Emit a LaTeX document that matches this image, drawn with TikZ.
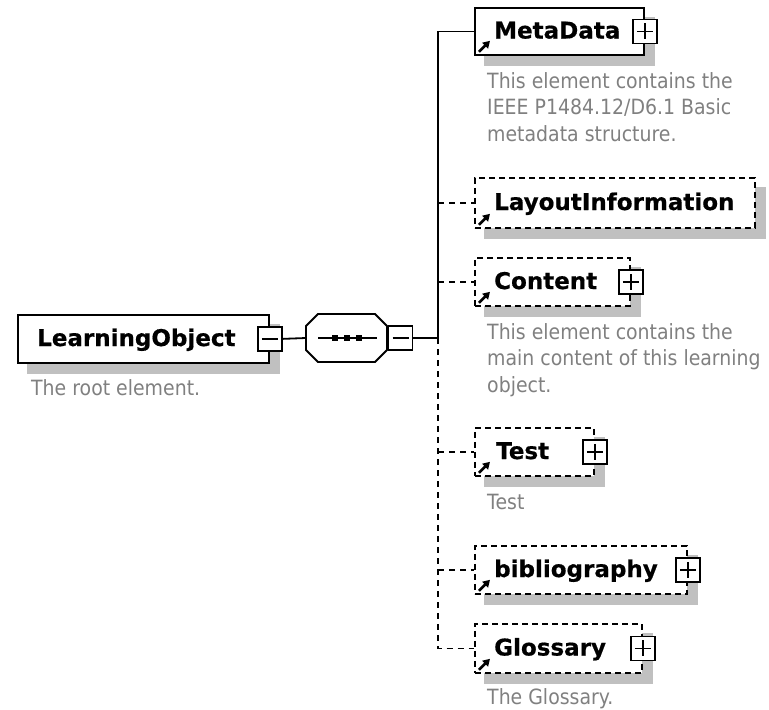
\documentclass[tikz,border=0pt]{standalone}
\usepackage{fontspec}
\setmainfont{DejaVu Sans}
\newfontfamily\capfont[FakeStretch=0.9]{DejaVu Sans}
\newfontfamily\lblfont[FakeBold=0.6]{DejaVu Sans Bold}
\usetikzlibrary{backgrounds,arrows.meta}
\definecolor{shgray}{RGB}{192,192,192}
\definecolor{capgray}{RGB}{128,128,128}
\begin{document}
\begin{tikzpicture}[x=1pt,y=-1pt,
  elem/.style={draw=black, fill=white, line width=1.8pt, anchor=north west, inner sep=0pt},
  optelem/.style={elem, dash pattern=on 6pt off 4pt},
  lbl/.style={font=\lblfont\fontsize{23}{27}\selectfont, anchor=base west, inner sep=0pt},
  captxt/.style={font=\capfont\fontsize{21}{26}\selectfont, text=capgray, anchor=base west, inner sep=0pt},
  pbox/.style={draw=black, fill=white, line width=1.6pt, minimum size=24pt, inner sep=0pt, outer sep=0pt,
    path picture={\draw[line width=1.6pt] ([xshift=4pt]path picture bounding box.west) -- ([xshift=-4pt]path picture bounding box.east)
      ([yshift=-4pt]path picture bounding box.north) -- ([yshift=4pt]path picture bounding box.south);}},
  mbox/.style={draw=black, fill=white, line width=1.6pt, minimum size=24pt, inner sep=0pt, outer sep=0pt,
    path picture={\draw[line width=1.6pt] ([xshift=4pt]path picture bounding box.west) -- ([xshift=-4pt]path picture bounding box.east);}},
  seqbox/.style={minimum width=81pt, minimum height=48pt, inner sep=0pt, outer sep=0pt},
  conn/.style={draw=black, line width=1.8pt},
  dconn/.style={conn, dash pattern=on 6pt off 5pt},
  refarrow/.style={draw=black, line width=2.6pt, -{Triangle[length=7pt,width=8pt]}},
  shadowfill/.style={fill=shgray}
]
\useasboundingbox (0,0) rectangle (769,710);

% coordinates
\coordinate (spine) at (438,338);

% root element
\node[elem, minimum width=251pt, minimum height=48pt] (root) at (17,314) {};
\node[lbl] (rootl) at (37,346) {LearningObject};
\node[captxt] (rootc) at (31,395) {The root element.};

% sequence compositor (octagon)
\node[seqbox] (seq) at (346.5,338) {};
\draw[line width=1.8pt, fill=white]
  ([yshift=-12pt]seq.north west) -- ([xshift=12pt]seq.north west) -- ([xshift=-12pt]seq.north east) -- ([yshift=-12pt]seq.north east)
  -- ([yshift=12pt]seq.south east) -- ([xshift=-12pt]seq.south east) -- ([xshift=12pt]seq.south west) -- ([yshift=12pt]seq.south west) -- cycle;
\draw[line width=1.6pt] ([shift={(-28.5,0)}]seq.center) -- ([shift={(30.5,0)}]seq.center);
\fill ([shift={(-14.5,-3)}]seq.center) rectangle ([shift={(-8.5,3)}]seq.center);
\fill ([shift={(-2.5,-3)}]seq.center) rectangle ([shift={(3.5,3)}]seq.center);
\fill ([shift={(9.5,-3)}]seq.center) rectangle ([shift={(15.5,3)}]seq.center);

% child elements
\node[elem, minimum width=169pt, minimum height=47pt] (meta) at (474,7) {};
\node[optelem, minimum width=280pt, minimum height=50pt] (layout) at (474,177) {};
\node[optelem, minimum width=155pt, minimum height=48pt] (content) at (474,257) {};
\node[optelem, minimum width=119pt, minimum height=48pt] (test) at (474,427) {};
\node[optelem, minimum width=212pt, minimum height=48pt] (biblio) at (474,545) {};
\node[optelem, minimum width=167pt, minimum height=49pt] (gloss) at (474,623) {};

% shadows
\begin{scope}[on background layer]
  \foreach \n in {root,meta,layout,content,test,biblio,gloss}{
    \fill[shadowfill] ([shift={(10,10)}]\n.north west) rectangle ([shift={(10,10)}]\n.south east);
  }
  \fill[shadowfill, shift={(10pt,-10pt)}]
    ([yshift=-12pt]seq.north west) -- ([xshift=12pt]seq.north west) -- ([xshift=-12pt]seq.north east) -- ([yshift=-12pt]seq.north east)
    -- ([yshift=12pt]seq.south east) -- ([xshift=-12pt]seq.south east) -- ([xshift=12pt]seq.south west) -- ([yshift=12pt]seq.south west) -- cycle;
\end{scope}

% expand / collapse boxes
\node[mbox] (rminus) at (root.east) {};
\node[mbox] (sminus) at (400.5,338) {};
\node[pbox] (metap) at (meta.east) {};
\node[pbox] (contentp) at (content.east) {};
\node[pbox] (testp) at (test.east) {};
\node[pbox] (bibliop) at (biblio.east) {};
\node[pbox] (glossp) at (gloss.east) {};

% connectors
\draw[conn] (rminus.east) -- (seq.west);
\draw[conn] (sminus.east) -- (spine);
\draw[conn] (spine) |- (meta.west);
\draw[dconn] (spine) |- (gloss.west);
\draw[dconn] (layout.west -| spine) -- (layout.west);
\draw[dconn] (content.west -| spine) -- (content.west);
\draw[dconn] (test.west -| spine) -- (test.west);
\draw[dconn] (biblio.west -| spine) -- (biblio.west);

% reference arrows
\foreach \n in {meta,layout,content,test,biblio,gloss}{
  \draw[refarrow] ([shift={(5,-4)}]\n.south west) -- ([shift={(16,-15)}]\n.south west);
}

% labels
\node[lbl] (metal) at (494,38.5) {MetaData};
\node[lbl] (layoutl) at (494,210) {LayoutInformation};
\node[lbl] (contentl) at (494,289) {Content};
\node[lbl] (testl) at (496,459) {Test};
\node[lbl] (bibliol) at (494,577) {bibliography};
\node[lbl] (glossl) at (494,655.5) {Glossary};

% captions
\node[captxt] (metac1) at (487,88) {This element contains the};
\node[captxt] (metac2) at (487,114.5) {IEEE P1484.12/D6.1 Basic};
\node[captxt] (metac3) at (487,141) {metadata structure.};
\node[captxt] (contentc1) at (487,339) {This element contains the};
\node[captxt] (contentc2) at (487,365.5) {main content of this learning};
\node[captxt] (contentc3) at (487,392) {object.};
\node[captxt] (testc) at (487,509) {Test};
\node[captxt] (glossc) at (487,704) {The Glossary.};
\end{tikzpicture}
\end{document}
